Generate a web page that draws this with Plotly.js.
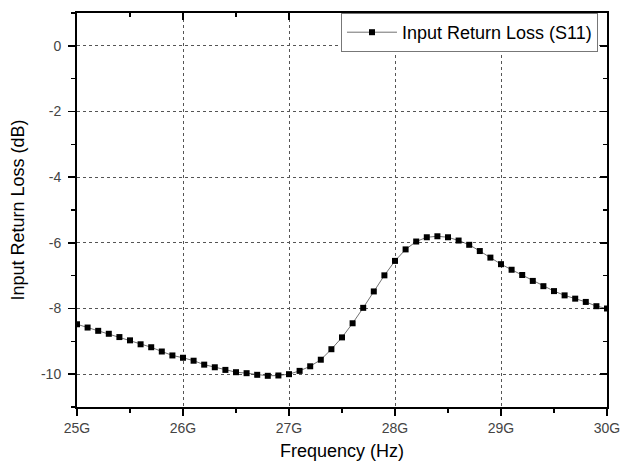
<!DOCTYPE html>
<html>
<head>
<meta charset="utf-8">
<script src="https://cdn.plot.ly/plotly-3.0.1.min.js"></script>
<style>html,body{margin:0;padding:0;background:#fff;}#chart{width:630px;height:463px;}</style>
</head>
<body>
<div id="chart"></div>
<script>
const freqGHz = [25.0,25.1,25.2,25.3,25.4,25.5,25.6,25.7,25.8,25.9,
  26.0,26.1,26.2,26.3,26.4,26.5,26.6,26.7,26.8,26.9,
  27.0,27.1,27.2,27.3,27.4,27.5,27.6,27.7,27.8,27.9,
  28.0,28.1,28.2,28.3,28.4,28.5,28.6,28.7,28.8,28.9,
  29.0,29.1,29.2,29.3,29.4,29.5,29.6,29.7,29.8,29.9,30.0];
const s11dB = [-8.48,-8.58,-8.68,-8.77,-8.87,-8.97,-9.09,-9.18,-9.31,-9.43,
  -9.50,-9.59,-9.71,-9.79,-9.87,-9.94,-9.97,-10.02,-10.05,-10.04,
  -10.00,-9.90,-9.76,-9.56,-9.24,-8.88,-8.45,-7.98,-7.48,-6.99,
  -6.55,-6.20,-5.96,-5.83,-5.80,-5.83,-5.93,-6.06,-6.25,-6.45,
  -6.65,-6.82,-6.98,-7.16,-7.32,-7.47,-7.60,-7.70,-7.80,-7.93,-8.00];
const xTickVals = [25,26,27,28,29,30];
const xTickText = ['25G','26G','27G','28G','29G','30G'];
const yTickVals = [0,-2,-4,-6,-8,-10];
const yTickText = ['0','-2','-4','-6','-8','-10'];
const seriesName = 'Input Return Loss (S11)';

const fontFam = 'Arial, "Liberation Sans", sans-serif';
const traces = [
  {x: freqGHz, y: s11dB, type:'scatter', mode:'lines+markers', name: seriesName,
   line:{color:'#333', width:0.7},
   marker:{symbol:'square', size:6, color:'#000'}},
  {x: [freqGHz[0]], y: [s11dB[0]], xaxis:'x2', yaxis:'y2', type:'scatter', mode:'markers',
   marker:{opacity:0}, showlegend:false, hoverinfo:'skip'}
];
const layout = {
  width:630, height:463,
  margin:{l:77, r:23, t:13, b:56},
  paper_bgcolor:'#fff', plot_bgcolor:'#fff',
  font:{family:fontFam, color:'#000'},
  showlegend:true,
  legend:{x:0.983, xanchor:'right', y:1, yanchor:'top', bgcolor:'#fff',
    bordercolor:'#777', borderwidth:1, itemwidth:50, tracegroupgap:0,
    font:{size:18, family:fontFam, color:'#000'}},
  xaxis:{range:[25,30], tickvals:xTickVals, ticktext:xTickText,
    ticks:'outside', ticklen:7, tickwidth:1.5, tickcolor:'#000',
    minor:{dtick:0.5, tick0:25, ticks:'outside', ticklen:4, tickwidth:1.5, tickcolor:'#000', showgrid:false},
    showline:true, linecolor:'#000', linewidth:2, zeroline:false,
    showgrid:true, gridcolor:'#555', griddash:'dot', gridwidth:1,
    tickfont:{size:14, color:'#444'},
    title:{text:'Frequency (Hz)', font:{size:18, color:'#000'}, standoff:10}},
  yaxis:{range:[-11,1], tickvals:yTickVals, ticktext:yTickText,
    ticks:'outside', ticklen:7, tickwidth:1.5, tickcolor:'#000', ticklabelstandoff:4,
    minor:{dtick:1, tick0:0, ticks:'outside', ticklen:4, tickwidth:1.5, tickcolor:'#000', showgrid:false},
    showline:true, linecolor:'#000', linewidth:2, zeroline:false,
    showgrid:true, gridcolor:'#555', griddash:'dot', gridwidth:1,
    tickfont:{size:14, color:'#444'},
    title:{text:'Input Return Loss (dB)', font:{size:18, color:'#000'}, standoff:12}},
  xaxis2:{overlaying:'x', side:'top', matches:'x', range:[25,30], tickvals:xTickVals,
    showticklabels:false, ticks:'inside', ticklen:7, tickwidth:1.5, tickcolor:'#000',
    minor:{dtick:0.5, tick0:25, ticks:'inside', ticklen:4, tickwidth:1.5, tickcolor:'#000'},
    showline:true, linecolor:'#000', linewidth:2, showgrid:false, zeroline:false},
  yaxis2:{overlaying:'y', side:'right', matches:'y', range:[-11,1], tickvals:yTickVals,
    showticklabels:false, ticks:'inside', ticklen:7, tickwidth:1.5, tickcolor:'#000',
    minor:{dtick:1, tick0:0, ticks:'inside', ticklen:4, tickwidth:1.5, tickcolor:'#000'},
    showline:true, linecolor:'#000', linewidth:2, showgrid:false, zeroline:false}
};
Plotly.newPlot('chart', traces, layout, {displayModeBar:false, staticPlot:true});
</script>
</body>
</html>
